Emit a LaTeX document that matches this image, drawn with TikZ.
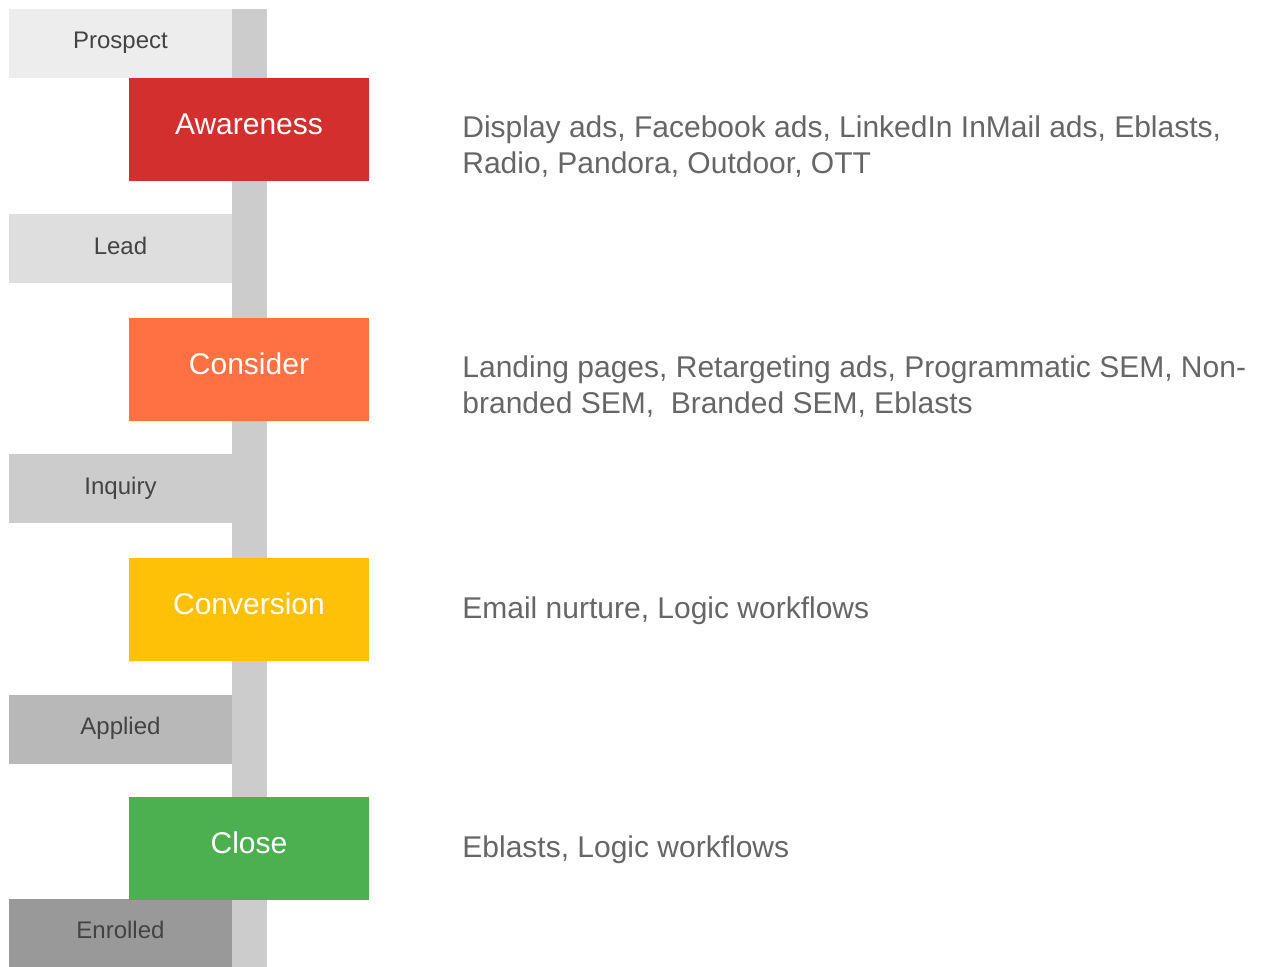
\documentclass[tikz,border=0pt]{standalone}
\usepackage{fontspec}
\setmainfont{Liberation Sans}
\usepackage{tikz}
\usetikzlibrary{backgrounds}
\definecolor{spine}{HTML}{CCCCCC}
\definecolor{darktext}{HTML}{434343}
\definecolor{softtext}{HTML}{666666}
\definecolor{awarered}{HTML}{D32F2F}
\definecolor{considerorange}{HTML}{FF7043}
\definecolor{convamber}{HTML}{FFC107}
\definecolor{closegreen}{HTML}{4CAF50}

\begin{document}
\begin{tikzpicture}[x=0.5pt,y=-0.5pt,
  stage/.style={minimum width=111.5pt,minimum height=34.5pt,inner sep=0pt,
    text=darktext,text height=9pt,text depth=3.9pt,font=\fontsize{12}{14}\selectfont},
  phase/.style={minimum width=120pt,minimum height=51.5pt,inner sep=0pt,
    text=white,text height=11pt,text depth=5.8pt,font=\fontsize{15}{18}\selectfont},
  tactic/.style={anchor=base west,align=left,inner sep=0pt,
    text=softtext,font=\fontsize{15}{18}\selectfont}]
\useasboundingbox (0,0) rectangle (1263,967);
% vertical spine behind the boxes
\fill[spine] (232,9) rectangle (267,967);
% lifecycle stages
\node[stage,fill=black!7]  (prospect) at (120.5,43.5) {Prospect};
\node[stage,fill=black!13] (lead)     at (120.5,249)  {Lead};
\node[stage,fill=spine]    (inquiry)  at (120.5,489)  {Inquiry};
\node[stage,fill=black!28] (applied)  at (120.5,729)  {Applied};
\node[stage,fill=black!40] (enrolled) at (120.5,933.5) {Enrolled};
% funnel phases
\node[phase,fill=awarered]       (awareness)  at (249,129.5) {Awareness};
\node[phase,fill=considerorange] (consider)   at (249,369.5) {Consider};
\node[phase,fill=convamber]      (conversion) at (249,609.5) {Conversion};
\node[phase,fill=closegreen]     (close)      at (249,848.5) {Close};
% tactics per phase (base = last line)
\node[tactic] (awaretxt) at (462,174) {Display ads, Facebook ads, LinkedIn InMail ads, Eblasts,\\Radio, Pandora, Outdoor, OTT};
\node[tactic] (considertxt) at (462,414) {Landing pages, Retargeting ads, Programmatic SEM, Non-\\branded SEM,\ \ Branded SEM, Eblasts};
\node[tactic] (convtxt) at (462,618) {Email nurture, Logic workflows};
\node[tactic] (closetxt) at (462,857) {Eblasts, Logic workflows};
\end{tikzpicture}
\end{document}
